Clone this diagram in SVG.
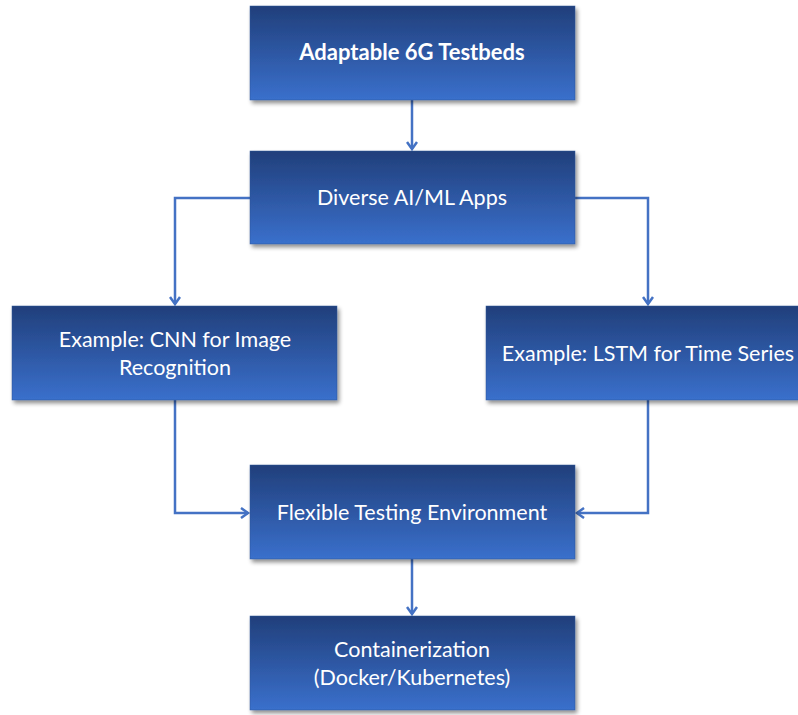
<svg xmlns="http://www.w3.org/2000/svg" width="798" height="715" viewBox="0 0 798 715">
<defs>
<linearGradient id="g" x1="0" y1="0" x2="0" y2="1">
<stop offset="0" stop-color="#213f7b"/>
<stop offset="1" stop-color="#3a70cc"/>
</linearGradient>
<filter id="sh" x="-5%" y="-5%" width="115%" height="125%">
<feGaussianBlur in="SourceAlpha" stdDeviation="2"/>
<feOffset dx="2" dy="3" result="b"/>
<feComponentTransfer><feFuncA type="linear" slope="0.45"/></feComponentTransfer>
<feMerge><feMergeNode/><feMergeNode in="SourceGraphic"/></feMerge>
</filter>
<marker id="ar" markerWidth="12" markerHeight="12" refX="9" refY="6" orient="auto" markerUnits="userSpaceOnUse">
<path d="M2,1 L9,6 L2,11" fill="none" stroke="#4472c4" stroke-width="2.5"/>
</marker>
</defs>
<style>
.box{fill:url(#g);stroke:#2f5597;stroke-width:0.5;filter:url(#sh)}
.t{font-family:Lato,"Open Sans",sans-serif;font-size:21.5px;fill:#ffffff;text-anchor:middle}
.b{font-weight:bold;font-size:22px}
.c{fill:none;stroke:#4472c4;stroke-width:2.5}
</style>
<rect width="798" height="715" fill="#ffffff"/>
<g id="connectors">
<path class="c" d="M412,100 V149" marker-end="url(#ar)"/>
<path class="c" d="M250,198 H175 V304" marker-end="url(#ar)"/>
<path class="c" d="M575,198 H648 V304" marker-end="url(#ar)"/>
<path class="c" d="M175,400 V513 H248" marker-end="url(#ar)"/>
<path class="c" d="M648,400 V513 H577" marker-end="url(#ar)"/>
<path class="c" d="M412,559 V614" marker-end="url(#ar)"/>
</g>
<g id="n1"><rect class="box" x="250" y="6" width="325" height="94"/><text class="t b" x="412" y="60">Adaptable 6G Testbeds</text></g>
<g id="n2"><rect class="box" x="250" y="151" width="325" height="93"/><text class="t" x="412" y="205">Diverse AI/ML Apps</text></g>
<g id="n3"><rect class="box" x="12" y="306" width="325" height="94"/><text class="t" x="175" y="347">Example: CNN for Image</text><text class="t" x="175" y="375">Recognition</text></g>
<g id="n4"><rect class="box" x="486" y="306" width="325" height="94"/><text class="t" x="648" y="361">Example: LSTM for Time Series</text></g>
<g id="n5"><rect class="box" x="250" y="465" width="325" height="94"/><text class="t" x="412" y="520">Flexible Testing Environment</text></g>
<g id="n6"><rect class="box" x="250" y="616" width="325" height="94"/><text class="t" x="412" y="657">Containerization</text><text class="t" x="412" y="685">(Docker/Kubernetes)</text></g>
</svg>
